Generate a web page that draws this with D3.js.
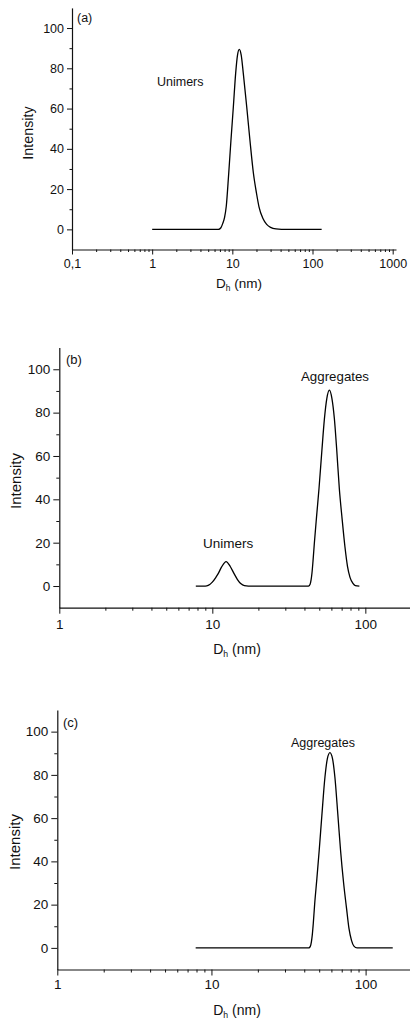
<!DOCTYPE html>
<html>
<head>
<meta charset="utf-8">
<script src="https://cdn.jsdelivr.net/npm/d3@7"></script>
<style>
  html, body { margin: 0; padding: 0; background: #fff; }
  svg { display: block; font-family: "Liberation Sans", Arial, sans-serif; }
</style>
</head>
<body>
<svg id="chart" width="410" height="1022"></svg>
<script>
// ---------- Data ----------
// Panel (a): hydrodynamic diameter (nm) vs intensity
const sizesA     = [1, 6.7, 7.2, 7.6, 8.0, 8.4, 9.0, 9.6, 10.3, 11.0, 11.6, 12.2, 12.9, 13.7, 15.1, 16.6, 18.3, 20.0, 21.5, 24.0, 26.8, 30.0, 35.0, 41.0, 130];
const intensityA = [0, 0,   0.8, 3,   6,   11.5, 27.5, 44, 61,  77.5, 86.5, 89.4, 86.5, 77.5, 61,  44,  28,  18,  11.2, 5.5, 2.5, 1,   0.2, 0,    0];

// Panel (b): unimers + aggregates
const sizesB     = [7.8, 9.0, 9.4, 10.0, 10.5, 10.9, 11.5, 12.3, 13.1, 13.9, 14.6, 15.4, 16.2, 17.2, 42.5, 43.5, 44.2, 44.8, 45.5, 46.4, 48.0, 49.8, 52.0, 54.0, 56.0, 58.2, 60.5, 62.7, 65.0, 67.6, 70.5, 73.6, 76.5, 79.4, 83.0, 86.0, 91.4];
const intensityB = [0,   0,   0.3, 1.8,  3.8,  5.6,  8.8,  11.3, 9.0,  5.6,  3.0,  1.0,  0.2,  0,    0,    0.7,  2.8,  6,    11.5, 19.5, 32,   45,   62.5, 77,   86.5, 90.4, 86.5, 77.5, 63,   45,   31,   18,   9,    4,    1.2,  0.2,  0];

// Panel (c): aggregates only
const sizesC     = [7.9, 42.8, 43.8, 44.5, 45.1, 45.8, 46.7, 48.3, 50.0, 52.0, 54.5, 56.5, 58.7, 61.0, 63.2, 66.0, 68.8, 72.0, 75.3, 78.0, 81.0, 84.0, 88.0, 150];
const intensityC = [0,   0,    0.7,  2.8,  6,    11.5, 20,   32,   45,   61,   79,   87.5, 90.3, 87.5, 79,   62,   45,   30,   18,   9,    3.5,  0.8,  0,    0];

// Axis ticks
const yTickValues   = [0, 20, 40, 60, 80, 100];
const yMinorValues  = [10, 30, 50, 70, 90];
const xTicksA       = [0.1, 1, 10, 100, 1000];
const xTickLabelsA  = ["0,1", "1", "10", "100", "1000"];
const xTicksBC      = [1, 10, 100];
const xTickLabelsBC = ["1", "10", "100"];

const panelLabels = ["(a)", "(b)", "(c)"];
const yTitle = "Intensity";

// ---------- Layout ----------
function minorLog(lo, hi, maxV) {
  const out = [];
  for (let d = lo; d <= hi; d++) {
    for (let k = 2; k <= 9; k++) {
      const v = k * Math.pow(10, d);
      if (v <= maxV) out.push(v);
    }
  }
  return out;
}

const panels = [
  {
    sizes: sizesA, values: intensityA, tag: panelLabels[0],
    xDomain: [0.1, 1100], xRange: [72, 396], yRange: [249.5, 7.9],
    xTicks: xTicksA, xLabels: xTickLabelsA, xMinor: minorLog(-1, 2, 1000),
    tickFont: 12.5, majorLen: 5, minorLen: 2.5, xPad: 4.6, yPad: 3,
    tagPos: [77, 22, 12.5],
    notes: [{t: "Unimers", x: 157, y: 86, fs: 12.5}],
    yTitlePos: [33, 133, 14.3], xTitlePos: [239, 288, 13.5]
  },
  {
    sizes: sizesB, values: intensityB, tag: panelLabels[1],
    xDomain: [1, 200], xRange: [59.3, 411.4], yRange: [607.7, 347.6],
    xTicks: xTicksBC, xLabels: xTickLabelsBC, xMinor: minorLog(0, 2, 200),
    tickFont: 13.5, majorLen: 6, minorLen: 3, xPad: 5.5, yPad: 3,
    tagPos: [66, 364, 13],
    notes: [{t: "Aggregates", x: 301, y: 381, fs: 13.3}, {t: "Unimers", x: 203, y: 548, fs: 13.5}],
    yTitlePos: [20.5, 481, 15], xTitlePos: [237, 654, 14]
  },
  {
    sizes: sizesC, values: intensityC, tag: panelLabels[2],
    xDomain: [1, 200], xRange: [57.3, 412], yRange: [969.5, 710],
    xTicks: xTicksBC, xLabels: xTickLabelsBC, xMinor: minorLog(0, 2, 200),
    tickFont: 13.5, majorLen: 6, minorLen: 3, xPad: 4, yPad: 3,
    tagPos: [63, 727, 13],
    notes: [{t: "Aggregates", x: 291, y: 747, fs: 12.5}],
    yTitlePos: [19.5, 842, 15], xTitlePos: [237, 1015, 14]
  }
];

const svg = d3.select("#chart");
svg.append("rect").attr("width", 410).attr("height", 1022).attr("fill", "#fff");

panels.forEach(p => {
  const g = svg.append("g");
  const x = d3.scaleLog().domain(p.xDomain).range(p.xRange);
  const y = d3.scaleLinear().domain([-10, 110]).range(p.yRange);
  const x0 = p.xRange[0];
  const yBase = p.yRange[0];

  // minor ticks (x)
  g.append("g")
    .attr("transform", `translate(0,${yBase})`)
    .call(d3.axisBottom(x).tickValues(p.xMinor).tickFormat("").tickSize(p.minorLen).tickSizeOuter(0))
    .call(a => a.select(".domain").remove());
  // major x axis
  g.append("g")
    .attr("transform", `translate(0,${yBase})`)
    .call(d3.axisBottom(x).tickValues(p.xTicks).tickFormat((d, i) => p.xLabels[i])
      .tickSize(p.majorLen).tickPadding(p.xPad).tickSizeOuter(0));
  // minor ticks (y)
  g.append("g")
    .attr("transform", `translate(${x0},0)`)
    .call(d3.axisLeft(y).tickValues(yMinorValues).tickFormat("").tickSize(p.minorLen).tickSizeOuter(0))
    .call(a => a.select(".domain").remove());
  // major y axis
  g.append("g")
    .attr("transform", `translate(${x0},0)`)
    .call(d3.axisLeft(y).tickValues(yTickValues).tickFormat(d3.format("d"))
      .tickSize(p.majorLen).tickPadding(p.yPad).tickSizeOuter(0));

  g.selectAll(".domain").attr("stroke", "#111").attr("stroke-width", 1.2);
  g.selectAll(".tick line").attr("stroke", "#111").attr("stroke-width", 1);
  g.selectAll(".tick text").attr("font-size", p.tickFont).attr("fill", "#111")
    .attr("font-family", '"Liberation Sans", Arial, sans-serif');

  // curve
  const line = d3.line()
    .x((d, i) => x(p.sizes[i]))
    .y(d => y(d))
    .curve(d3.curveMonotoneX);
  g.append("path")
    .datum(p.values)
    .attr("d", line)
    .attr("fill", "none")
    .attr("stroke", "#000")
    .attr("stroke-width", 1.3);

  // panel tag
  g.append("text").attr("x", p.tagPos[0]).attr("y", p.tagPos[1])
    .attr("font-size", p.tagPos[2]).attr("fill", "#111").text(p.tag);

  // annotations
  p.notes.forEach(n => {
    g.append("text").attr("x", n.x).attr("y", n.y)
      .attr("font-size", n.fs).attr("fill", "#111").text(n.t);
  });

  // y title
  g.append("text")
    .attr("transform", `translate(${p.yTitlePos[0]},${p.yTitlePos[1]}) rotate(-90)`)
    .attr("text-anchor", "middle")
    .attr("font-size", p.yTitlePos[2]).attr("fill", "#111")
    .text(yTitle);

  // x title  D_h (nm)
  const xt = g.append("text")
    .attr("x", p.xTitlePos[0]).attr("y", p.xTitlePos[1])
    .attr("text-anchor", "middle")
    .attr("font-size", p.xTitlePos[2]).attr("fill", "#111");
  xt.append("tspan").text("D");
  xt.append("tspan").attr("font-size", p.xTitlePos[2] * 0.62).attr("dy", 3).text("h");
  xt.append("tspan").attr("dy", -3).text(" (nm)");
});
</script>
</body>
</html>
